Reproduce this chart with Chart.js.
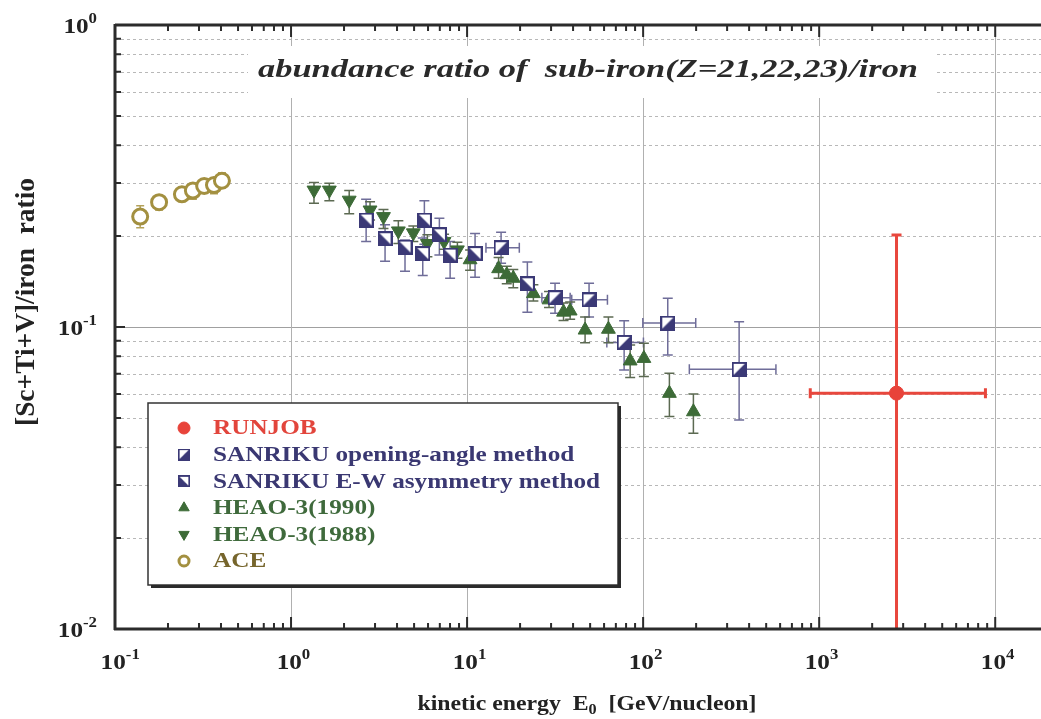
<!DOCTYPE html>
<html>
<head>
<meta charset="utf-8">
<script src="https://cdn.jsdelivr.net/npm/chart.js@4.4.1/dist/chart.umd.min.js"></script>
<style>
html, body { margin: 0; padding: 0; background: #fff; }
canvas { display: block; }
</style>
</head>
<body>
<canvas id="myChart" width="1041" height="719"></canvas>
<script>
// RUNJOB
const runjobE = [2750];
const runjobRatio = [0.0604];
const runjobLo = [0.005];
const runjobHi = [0.2017];
const runjobELo = [890];
const runjobEHi = [8800];

// SANRIKU opening-angle method
const openE = [15.6, 31.6, 49.3, 78.0, 138, 351];
const openRatio = [0.183, 0.125, 0.123, 0.0889, 0.103, 0.0724];
const openLo = [0.1625, 0.111, 0.108, 0.0721, 0.0808, 0.0492];
const openHi = [0.206, 0.1395, 0.1395, 0.1049, 0.1245, 0.1041];
const openELo = [12.8, 26.6, 39.3, 62.2, 99.6, 183];
const openEHi = [19.8, 38.5, 62.7, 100.4, 199, 568];

// SANRIKU E-W asymmetry method
const ewE = [2.67, 3.42, 4.44, 5.60, 5.72, 6.96, 8.01, 11.1, 22.0];
const ewRatio = [0.226, 0.196, 0.184, 0.175, 0.226, 0.202, 0.173, 0.175, 0.139];
const ewLo = [0.192, 0.165, 0.153, 0.148, 0.188, 0.173, 0.145, 0.146, 0.112];
const ewHi = [0.265, 0.218, 0.194, 0.197, 0.262, 0.229, 0.192, 0.204, 0.164];

// HEAO-3 (1990)
const heao90E = [10.4, 15.1, 16.8, 18.3, 23.8, 29.2, 35.3, 38.5, 46.8, 63.5, 84.4, 101, 141, 193];
const heao90Ratio = [0.167, 0.156, 0.149, 0.145, 0.129, 0.123, 0.112, 0.113, 0.0977, 0.0983, 0.0772, 0.0787, 0.0603, 0.0524];
const heao90Lo = [0.154, 0.145, 0.139, 0.135, 0.122, 0.116, 0.105, 0.106, 0.0887, 0.0887, 0.068, 0.0685, 0.0505, 0.0445];
const heao90Hi = [0.180, 0.170, 0.159, 0.155, 0.138, 0.131, 0.120, 0.121, 0.108, 0.108, 0.0872, 0.0883, 0.0703, 0.060];

// HEAO-3 (1988)
const heao88E = [1.35, 1.65, 2.14, 2.81, 3.35, 4.07, 4.95, 5.95, 7.40, 8.81];
const heao88Ratio = [0.284, 0.284, 0.263, 0.244, 0.232, 0.208, 0.205, 0.189, 0.192, 0.180];
const heao88Lo = [0.257, 0.262, 0.237, 0.226, 0.212, 0.189, 0.192, 0.171, 0.181, 0.169];
const heao88Hi = [0.301, 0.299, 0.283, 0.260, 0.245, 0.225, 0.216, 0.202, 0.203, 0.191];

// ACE
const aceE = [0.139, 0.178, 0.240, 0.277, 0.321, 0.365, 0.405];
const aceRatio = [0.232, 0.259, 0.275, 0.283, 0.293, 0.295, 0.305];
const aceLo = [0.213, 0.244, 0.262, 0.265, 0.278, 0.276, 0.289];
const aceHi = [0.252, 0.272, 0.286, 0.293, 0.307, 0.309, 0.324];

const xTicks = [0.1, 1, 10, 100, 1000, 10000];
const yTicks = [0.01, 0.1, 1];

const serif = '"Liberation Serif", "Times New Roman", serif';
const SX = 1.2; // the scan is a bit wider than tall

function pts(xs, ys) {
    return xs.map((v, i) => ({ x: v, y: ys[i] }));
}

// half filled square marker like the SANRIKU symbols
function halfSquare(lowerRight) {
    var c = document.createElement('canvas');
    c.width = 15; c.height = 15;
    var g = c.getContext('2d');
    g.fillStyle = '#fff';
    g.fillRect(1, 1, 13, 13);
    g.fillStyle = '#3b3976';
    g.beginPath();
    if (lowerRight) { g.moveTo(1, 14); g.lineTo(14, 14); g.lineTo(14, 1); }
    else { g.moveTo(1, 1); g.lineTo(1, 14); g.lineTo(14, 14); }
    g.closePath();
    g.fill();
    g.strokeStyle = '#3b3976';
    g.lineWidth = 2;
    g.strokeRect(1, 1, 13, 13);
    return c;
}
const openMarker = halfSquare(true);
const ewMarker = halfSquare(false);

function drawText(ctx, runs, x, y, sx, align) {
    // runs: [{t, font, dy}]
    ctx.save();
    var w = 0;
    runs.forEach(r => { ctx.font = r.font; r.w = ctx.measureText(r.t).width; w += r.w; });
    ctx.translate(x, y);
    ctx.scale(sx, 1);
    var cx = align === 'center' ? -w / 2 : (align === 'right' ? -w : 0);
    ctx.textAlign = 'left';
    ctx.textBaseline = 'middle';
    runs.forEach(r => {
        ctx.font = r.font;
        ctx.fillStyle = r.color || '#222';
        ctx.fillText(r.t, cx, r.dy || 0);
        cx += r.w;
    });
    ctx.restore();
}

function fitText(ctx, runs, cx, cy, width) {
    var w = 0;
    ctx.save();
    runs.forEach(r => { ctx.font = r.font; w += ctx.measureText(r.t).width; });
    ctx.restore();
    drawText(ctx, runs, cx, cy, width / w, 'center');
}

const errorBars = {
    id: 'errorBars',
    beforeDatasetsDraw(chart) {
        const { ctx, chartArea: a } = chart;
        const x = chart.scales.x, y = chart.scales.y;
        ctx.save();
        ctx.beginPath();
        ctx.rect(a.left, a.top, a.right - a.left, a.bottom - a.top);
        ctx.clip();
        chart.data.datasets.forEach(ds => {
            const e = ds.err;
            if (!e) return;
            ctx.strokeStyle = e.color;
            ctx.lineWidth = e.width;
            ds.data.forEach((p, j) => {
                const px = x.getPixelForValue(p.x), py = y.getPixelForValue(p.y);
                ctx.beginPath();
                if (e.lo) {
                    const y1 = y.getPixelForValue(e.lo[j]), y2 = y.getPixelForValue(e.hi[j]);
                    ctx.moveTo(px, y1); ctx.lineTo(px, y2);
                    ctx.moveTo(px - e.cap, y1); ctx.lineTo(px + e.cap, y1);
                    ctx.moveTo(px - e.cap, y2); ctx.lineTo(px + e.cap, y2);
                }
                if (e.xlo) {
                    const x1 = x.getPixelForValue(e.xlo[j]), x2 = x.getPixelForValue(e.xhi[j]);
                    ctx.moveTo(x1, py); ctx.lineTo(x2, py);
                    ctx.moveTo(x1, py - e.cap); ctx.lineTo(x1, py + e.cap);
                    ctx.moveTo(x2, py - e.cap); ctx.lineTo(x2, py + e.cap);
                }
                ctx.stroke();
            });
        });
        ctx.restore();
    }
};

const frame = {
    id: 'frame',
    beforeDraw(chart) {
        const ctx = chart.ctx;
        ctx.save();
        ctx.fillStyle = '#fff';
        ctx.fillRect(0, 0, chart.width, chart.height);
        ctx.restore();
    },
    beforeDatasetsDraw(chart) {
        const { ctx, chartArea: a } = chart;
        const x = chart.scales.x, y = chart.scales.y;
        ctx.save();
        // horizontal grid
        for (let d = -2; d < 0; d++) {
            for (let m = 1; m < 10; m++) {
                const py = Math.round(y.getPixelForValue(m * Math.pow(10, d))) + 0.5;
                if (m === 1 && d === -2) continue;
                ctx.beginPath();
                if (m === 1) { ctx.setLineDash([]); ctx.strokeStyle = '#a0a0a0'; }
                else { ctx.setLineDash([3, 3]); ctx.strokeStyle = '#b8b8b8'; }
                ctx.lineWidth = 1;
                ctx.moveTo(a.left, py); ctx.lineTo(a.right, py);
                ctx.stroke();
            }
        }
        ctx.setLineDash([]);
        // vertical grid at decades
        xTicks.slice(1).forEach(v => {
            const px = Math.round(x.getPixelForValue(v)) + 0.5;
            ctx.beginPath();
            ctx.strokeStyle = '#b0b0b0';
            ctx.moveTo(px, a.top); ctx.lineTo(px, a.bottom);
            ctx.stroke();
        });
        // title box
        ctx.fillStyle = '#fff';
        ctx.fillRect(248, 46, 686, 52);
        fitText(ctx, [{ t: 'abundance ratio of  sub-iron(Z=21,22,23)/iron', font: 'italic bold 26px ' + serif, color: '#2a2a2a' }], 588, 70, 660);
        ctx.restore();
    },
    afterDatasetsDraw(chart) {
        const { ctx, chartArea: a } = chart;
        const x = chart.scales.x, y = chart.scales.y;
        ctx.save();
        ctx.strokeStyle = '#2b2b2b';
        ctx.lineWidth = 3;
        ctx.beginPath();
        ctx.moveTo(a.left, a.top); ctx.lineTo(a.right, a.top);
        ctx.moveTo(a.left, a.top - 1); ctx.lineTo(a.left, a.bottom + 1);
        ctx.moveTo(a.left - 1, a.bottom); ctx.lineTo(a.right, a.bottom);
        ctx.stroke();
        // tick marks
        ctx.lineWidth = 2;
        ctx.beginPath();
        for (let d = -1; d <= 4; d++) {
            for (let m = 1; m < 10; m++) {
                const v = m * Math.pow(10, d);
                if (v > x.max) break;
                const px = x.getPixelForValue(v);
                const len = m === 1 ? 12 : 6;
                ctx.moveTo(px, a.bottom); ctx.lineTo(px, a.bottom - len);
                ctx.moveTo(px, a.top); ctx.lineTo(px, a.top + len);
            }
        }
        for (let d = -2; d < 0; d++) {
            for (let m = 1; m < 10; m++) {
                const py = y.getPixelForValue(m * Math.pow(10, d));
                const len = m === 1 ? 10 : 6;
                ctx.moveTo(a.left, py); ctx.lineTo(a.left + len, py);
            }
        }
        ctx.stroke();

        // tick labels
        const big = 'bold 21px ' + serif, sup = 'bold 14px ' + serif;
        xTicks.forEach(v => {
            const px = x.getPixelForValue(v);
            const ex = String(Math.round(Math.log10(v)));
            drawText(ctx, [{ t: '10', font: big }, { t: ex, font: sup, dy: -9 }], px - 12 * SX, 664, SX, 'left');
        });
        yTicks.forEach(v => {
            const py = Math.max(18, y.getPixelForValue(v) + 3);
            const ex = String(Math.round(Math.log10(v)));
            drawText(ctx, [{ t: '10', font: big }, { t: ex, font: sup, dy: -9 }], 97, py, SX, 'right');
        });

        // axis titles
        fitText(ctx, [
            { t: 'kinetic energy  E', font: 'bold 22px ' + serif },
            { t: '0', font: 'bold 15px ' + serif, dy: 6 },
            { t: '  [GeV/nucleon]', font: 'bold 22px ' + serif }
        ], 587, 704, 339);

        ctx.save();
        ctx.translate(27, 302);
        ctx.rotate(-Math.PI / 2);
        ctx.font = 'bold 22px ' + serif;
        const yt = '[Sc+Ti+V]/iron  ratio';
        const tw = ctx.measureText(yt).width;
        ctx.scale(248 / tw, SX);
        ctx.fillStyle = '#222';
        ctx.textAlign = 'center';
        ctx.textBaseline = 'middle';
        ctx.fillText(yt, 0, 0);
        ctx.restore();

        // legend
        const lx = 148, ly = 403, lw = 470, lh = 182;
        ctx.fillStyle = '#fff';
        ctx.fillRect(lx, ly, lw, lh);
        ctx.lineWidth = 1.5;
        ctx.strokeStyle = '#333';
        ctx.strokeRect(lx, ly, lw, lh);
        ctx.fillStyle = '#2b2b2b';
        ctx.fillRect(lx + 3, ly + lh, lw, 3);
        ctx.fillRect(lx + lw, ly + 3, 3, lh);
        chart.data.datasets.forEach((ds, i) => {
            const cy = 428 + i * 26.6;
            const mx = 184;
            const ps = ds.pointStyle;
            ctx.save();
            if (ps instanceof HTMLCanvasElement) {
                ctx.drawImage(ps, mx - 6, cy - 6, 12, 12);
            } else {
                ctx.fillStyle = ds.backgroundColor;
                ctx.strokeStyle = ds.borderColor;
                ctx.lineWidth = ds.borderWidth;
                Chart.helpers.drawPoint(ctx, {
                    pointStyle: ps, radius: ds.legendRadius, rotation: ds.rotation || 0,
                    borderWidth: ds.borderWidth
                }, mx, cy);
            }
            ctx.restore();
            drawText(ctx, [{ t: ds.label, font: 'bold 21px ' + serif, color: ds.textColor }], 213, cy + 1, SX, 'left');
        });
        ctx.restore();
    }
};

const ctx = document.getElementById('myChart').getContext('2d');
const myChart = new Chart(ctx, {
    type: 'scatter',
    data: {
        datasets: [
            {
                label: 'RUNJOB',
                data: pts(runjobE, runjobRatio),
                pointStyle: 'circle', pointRadius: 7, legendRadius: 6,
                backgroundColor: '#e8433a', borderColor: '#e8433a', borderWidth: 1,
                textColor: '#e2453c',
                err: { lo: runjobLo, hi: runjobHi, xlo: runjobELo, xhi: runjobEHi, color: '#e8473d', width: 3, cap: 5 }
            },
            {
                label: 'SANRIKU opening-angle method',
                data: pts(openE, openRatio),
                pointStyle: openMarker,
                backgroundColor: '#3b3976', borderColor: '#3b3976', borderWidth: 1,
                textColor: '#3a3872',
                err: { lo: openLo, hi: openHi, xlo: openELo, xhi: openEHi, color: '#6f6d99', width: 1.5, cap: 5 }
            },
            {
                label: 'SANRIKU E-W asymmetry method',
                data: pts(ewE, ewRatio),
                pointStyle: ewMarker,
                backgroundColor: '#3b3976', borderColor: '#3b3976', borderWidth: 1,
                textColor: '#3a3872',
                err: { lo: ewLo, hi: ewHi, color: '#6f6d99', width: 1.5, cap: 5 }
            },
            {
                label: 'HEAO-3(1990)',
                data: pts(heao90E, heao90Ratio),
                pointStyle: 'triangle', pointRadius: 8, legendRadius: 6, rotation: 0,
                backgroundColor: '#3d6b37', borderColor: '#3d6b37', borderWidth: 1,
                textColor: '#3f6a3c',
                err: { lo: heao90Lo, hi: heao90Hi, color: '#5c6a52', width: 1.5, cap: 5 }
            },
            {
                label: 'HEAO-3(1988)',
                data: pts(heao88E, heao88Ratio),
                pointStyle: 'triangle', pointRadius: 8, legendRadius: 6, rotation: 180,
                backgroundColor: '#3d6b37', borderColor: '#3d6b37', borderWidth: 1,
                textColor: '#3f6a3c',
                err: { lo: heao88Lo, hi: heao88Hi, color: '#5c6a52', width: 1.5, cap: 5 }
            },
            {
                label: 'ACE',
                data: pts(aceE, aceRatio),
                pointStyle: 'circle', pointRadius: 7.5, legendRadius: 5,
                backgroundColor: '#ffffff', borderColor: '#a39040', borderWidth: 3,
                textColor: '#76652c',
                err: { lo: aceLo, hi: aceHi, color: '#b3a15a', width: 1.5, cap: 4 }
            }
        ]
    },
    options: {
        responsive: false,
        animation: false,
        layout: { autoPadding: false, padding: { left: 115, top: 25, right: 0, bottom: 90 } },
        plugins: { legend: { display: false }, tooltip: { enabled: false } },
        scales: {
            x: { type: 'logarithmic', min: 0.1, max: 18200, display: false },
            y: { type: 'logarithmic', min: 0.01, max: 1, display: false }
        }
    },
    plugins: [frame, errorBars]
});
</script>
</body>
</html>
